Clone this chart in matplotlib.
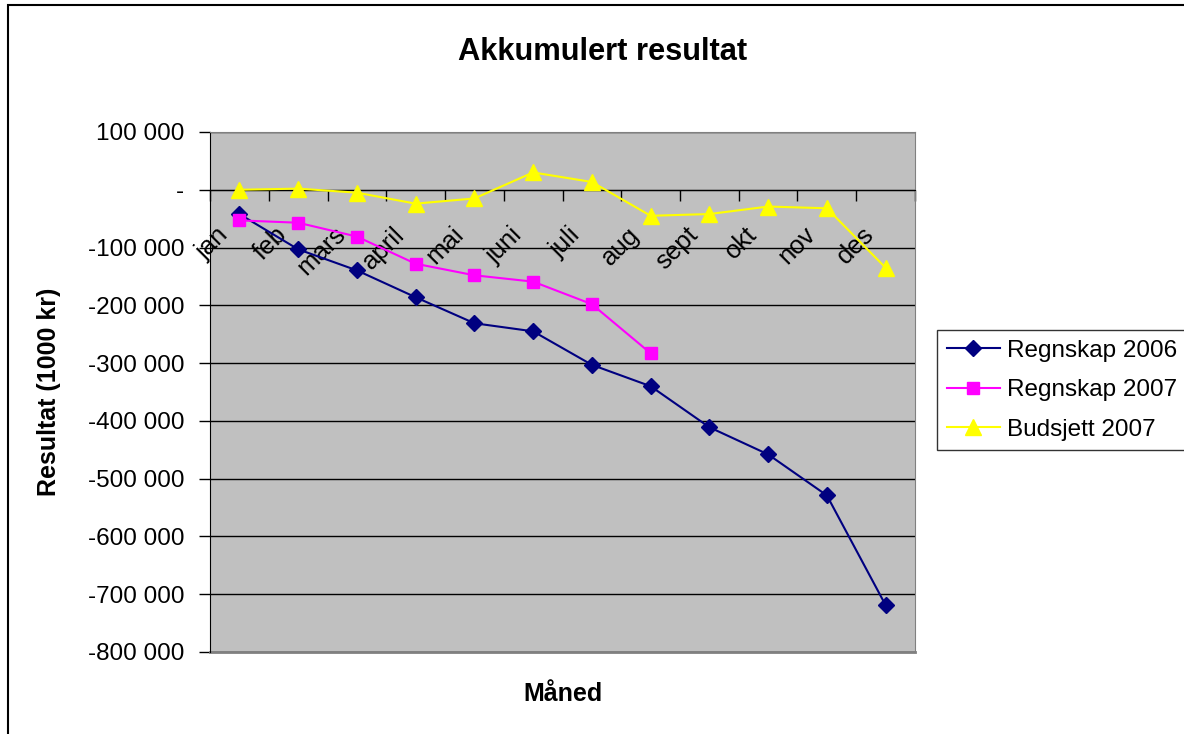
import matplotlib.pyplot as plt
import numpy as np
from matplotlib.patches import Rectangle
from matplotlib.ticker import FixedLocator
from matplotlib.transforms import ScaledTranslation

plt.rcParams['font.family'] = ['Liberation Sans', 'DejaVu Sans']

# data
months = ["jan", "feb", "mars", "april", "mai", "juni", "juli", "aug",
          "sept", "okt", "nov", "des"]
regnskap_2006 = [-42000, -103000, -139500, -186000, -231000, -245000,
                 -303000, -340000, -411000, -458000, -529000, -719000]
regnskap_2007 = [-53000, -57000, -81000, -128000, -148000, -159000,
                 -198000, -283000]
budsjett_2007 = [0, 2000, -5000, -24000, -15000, 30000, 13500, -45000,
                 -42000, -29000, -32000, -135000]
y_ticks = list(range(100000, -800001, -100000))

fig = plt.figure(figsize=(11.84, 7.34), dpi=100)
ax = fig.add_axes([210 / 1184, 1 - 652 / 734, 705 / 1184, 520 / 734])
ax.set_facecolor("#C0C0C0")

x = np.arange(len(months))
ax.plot(x, regnskap_2006, color="#000080", marker="D", markersize=8,
        linewidth=1.5, label="Regnskap 2006", zorder=3)
ax.plot(x[:len(regnskap_2007)], regnskap_2007, color="#FF00FF", marker="s",
        markersize=8, linewidth=1.5, label="Regnskap 2007", zorder=3)
ax.plot(x, budsjett_2007, color="#FFFF00", marker="^", markersize=11,
        linewidth=1.5, label="Budsjett 2007", zorder=3)

ax.set_xlim(-0.5, 11.5)
ax.set_ylim(-800000, 100000)

# y axis
ax.yaxis.set_major_locator(FixedLocator(y_ticks))
ax.set_yticklabels(["-" if v == 0 else f"{v:,}".replace(",", " ") for v in y_ticks])
ax.tick_params(axis="y", direction="out", length=8, width=1, labelsize=17.5, pad=10.6)
ax.grid(axis="y", color="black", linewidth=1)
ax.set_axisbelow(True)

# x axis sits at zero, tick marks between the months
ax.spines["bottom"].set_position(("data", 0))
ax.spines["bottom"].set_color("black")
ax.spines["left"].set_color("black")
ax.spines["top"].set_color("#808080")
ax.spines["right"].set_color("#808080")
ax.set_xticks(np.arange(-0.5, 12, 1))
ax.set_xticklabels([])
ax.tick_params(axis="x", direction="out", length=8, width=1)

# month labels under the zero line, rotated like the original
offset = ax.transData + ScaledTranslation(-0.15, -0.41, fig.dpi_scale_trans)
for i, m in enumerate(months):
    ax.text(i, 0, m, transform=offset, rotation=45, ha="right", va="center",
            rotation_mode="anchor", fontsize=18.5, zorder=1.5)

# gray bottom border of the plot area
ax.axhline(-800000, color="#808080", linewidth=2, clip_on=False)

fig.text(603 / 1184, 1 - 52 / 734, "Akkumulert resultat", ha="center",
         va="center", fontsize=22.2, fontweight="bold")
fig.text(563 / 1184, 1 - 694 / 734, "Måned", ha="center", va="center",
         fontsize=18, fontweight="bold")
fig.text(49 / 1184, 1 - 392 / 734, "Resultat (1000 kr)", ha="center",
         va="center", rotation=90, fontsize=18, fontweight="bold")

leg = fig.legend(loc="upper left", bbox_to_anchor=(937 / 1184, 1 - 330 / 734),
                 fontsize=17.5, frameon=True, fancybox=False, handlelength=2.2,
                 borderaxespad=0, borderpad=0.4, labelspacing=0.72,
                 handletextpad=0.3)
leg.get_frame().set_edgecolor("black")
leg.get_frame().set_linewidth(1)

# outer chart border (cut off on the right and bottom)
fig.patches.append(Rectangle((8 / 1184, -0.1), 1.2, 1.1 - 5 / 734,
                             transform=fig.transFigure, fill=False,
                             edgecolor="black", linewidth=1.5))

fig.savefig("out.png", dpi=100)
